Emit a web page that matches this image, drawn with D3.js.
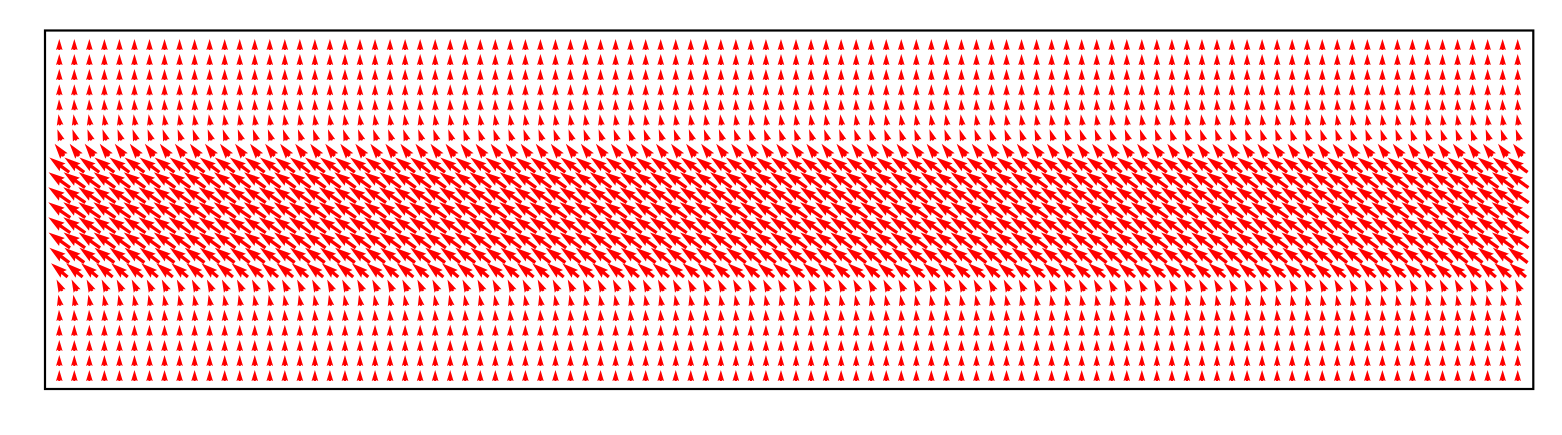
<!DOCTYPE html>
<html>
<head>
<meta charset="utf-8">
<script src="https://cdn.jsdelivr.net/npm/d3@7"></script>
<style>
  html, body { margin: 0; padding: 0; background: #ffffff; }
  svg { display: block; }
</style>
</head>
<body>
<svg id="chart" width="1562" height="435"></svg>
<script>
// ---- data ----
// grid: 98 columns x 23 rows
const gridX = d3.range(0, 98);            // column coordinates
const gridY = d3.range(0, 23);            // row coordinates (0 = bottom)
// horizontal component per row, bottom (row 0) to top (row 22)
const uByRow = [0, 0, 0, 0, -0.06, -0.18, -0.5, -1.5, -1.8, -1.95, -2.0,
                -2.0, -2.0, -1.95, -1.8, -0.85, -0.35, -0.15, -0.05, 0, 0, 0, 0];
// vertical component per row
const vByRow = [1, 1, 1, 1, 1, 1, 1.05, 1.25, 1.35, 1.4, 1.4,
                1.4, 1.4, 1.4, 1.35, 1.12, 1.02, 1, 1, 1, 1, 1, 1];

// ---- layout ----
const svg = d3.select("#chart");
const frame = { left: 45, top: 30.5, right: 1533.3, bottom: 389 };

const x = d3.scaleLinear().domain([0, 97]).range([59.3, 1517.7]);
const y = d3.scaleLinear().domain([0, 22]).range([375.5, 44.5]);

const pxPerUnit = 11;   // arrow length for a unit vector
const w = 3.3;          // shaft width (px)
const headLen = 5 * w, headAxis = 4.5 * w, headHalf = 1.5 * w;

function arrowPath(L) {
  let pts;
  if (L >= headLen) {
    pts = [[0, -w / 2], [L - headAxis, -w / 2], [L - headLen, -headHalf], [L, 0],
           [L - headLen, headHalf], [L - headAxis, w / 2], [0, w / 2]];
  } else {
    const s = L / headLen;
    pts = [[0, -w / 2], [headLen - headAxis, -w / 2], [0, -headHalf], [headLen, 0],
           [0, headHalf], [headLen - headAxis, w / 2], [0, w / 2]].map(p => [p[0] * s, p[1] * s]);
  }
  return "M" + pts.map(p => p.join(",")).join("L") + "Z";
}

const data = [];
gridY.forEach((r, i) => {
  gridX.forEach(c => {
    data.push({ x: c, y: r, u: uByRow[i], v: vByRow[i] });
  });
});

const g = svg.append("g");
g.selectAll("path.arrow")
  .data(data)
  .join("path")
  .attr("class", "arrow")
  .attr("fill", "#ff0000")
  .attr("d", d => {
    const dx = d.u * pxPerUnit, dy = -d.v * pxPerUnit;
    return arrowPath(Math.hypot(dx, dy));
  })
  .attr("transform", d => {
    const dx = d.u * pxPerUnit, dy = -d.v * pxPerUnit;
    const L = Math.hypot(dx, dy);
    const ang = Math.atan2(dy, dx) * 180 / Math.PI;
    return `translate(${x(d.x)},${y(d.y)}) rotate(${ang}) translate(${-L / 2},0)`;
  });

svg.append("rect")
  .attr("x", frame.left)
  .attr("y", frame.top)
  .attr("width", frame.right - frame.left)
  .attr("height", frame.bottom - frame.top)
  .attr("fill", "none")
  .attr("stroke", "#000")
  .attr("stroke-width", 2.2);
</script>
</body>
</html>
